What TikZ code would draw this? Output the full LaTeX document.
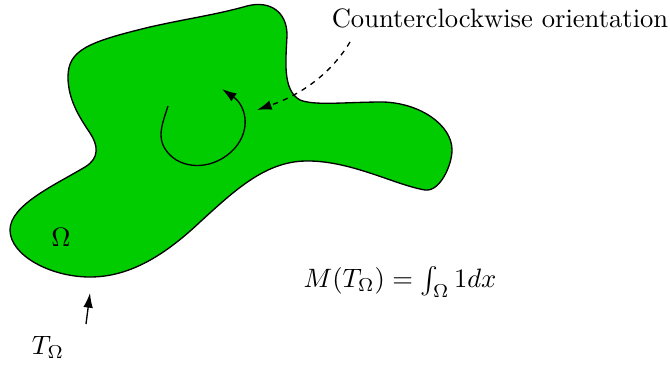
\documentclass[tikz,border=0pt]{standalone}
\usetikzlibrary{arrows.meta}
\definecolor{blobgreen}{RGB}{0,204,0}
\begin{document}
\begin{tikzpicture}[x=0.376pt,y=-0.376pt,
  outline/.style={draw=black,line width=0.5pt,fill=blobgreen},
  arr/.style={-{Latex[length=5.5pt,width=3.6pt]},line width=0.5pt},
  dashline/.style={dash pattern=on 2pt off 2pt},
  lbl/.style={inner sep=0pt}]
\useasboundingbox (0,0) rectangle (670,365);
\draw[outline] (68,77) .. controls (68,50) and (88,42) .. (150,27)
 .. controls (190,18) and (215,15) .. (247,6)
 .. controls (270,0) and (287,12) .. (287,35)
 .. controls (286,60) and (282,90) .. (300,100)
 .. controls (315,106) and (345,102) .. (383,102)
 .. controls (420,103) and (452,125) .. (452,150)
 .. controls (452,165) and (440,192) .. (425,190)
 .. controls (395,185) and (350,160) .. (305,161)
 .. controls (265,162) and (235,190) .. (200,222)
 .. controls (165,255) and (130,277) .. (90,277)
 .. controls (50,277) and (10,255) .. (10,230)
 .. controls (10,205) and (55,185) .. (85,167)
 .. controls (100,158) and (98,145) .. (90,133)
 .. controls (80,118) and (68,100) .. (68,77) -- cycle;
\coordinate (cstart) at (168,106);
\coordinate (cend) at (222,89);
\draw[arr] (cstart) .. controls (162,125) and (155,140) .. (170,155)
 .. controls (185,170) and (215,170) .. (235,148)
 .. controls (252,128) and (245,105) .. (cend);
\node[lbl] (ccw) at (500,18) {Counterclockwise orientation};
\coordinate (dstart) at (350,42);
\coordinate (dend) at (257,110);
\draw[arr,dashline] (dstart) .. controls (330,75) and (300,95) .. (dend);
\node[lbl] (omega) at (61,237) {$\Omega$};
\node[lbl] (tom) at (48,347) {$T_\Omega$};
\coordinate (ttail) at (86,324);
\coordinate (ttip) at (90,293);
\draw[arr] (ttail) -- (ttip);
\node[lbl] (mass) at (400,282) {$M(T_\Omega)=\int_\Omega 1dx$};
\end{tikzpicture}
\end{document}
